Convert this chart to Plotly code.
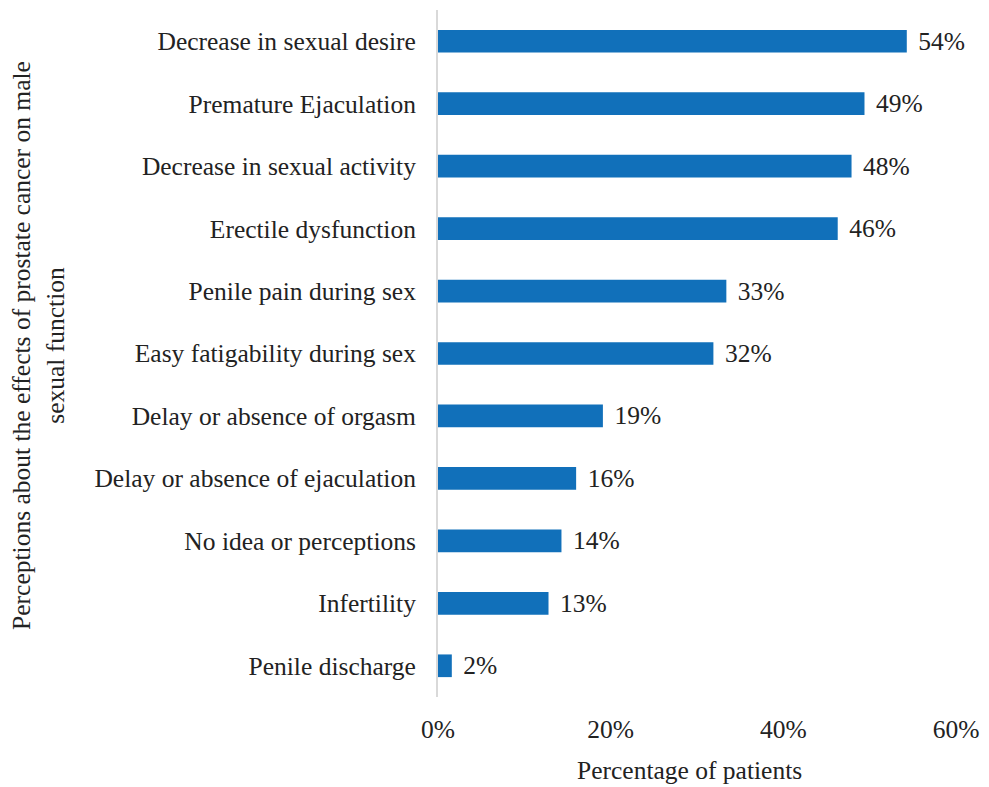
import plotly.graph_objects as go

categories = [
    "Decrease in sexual desire",
    "Premature Ejaculation",
    "Decrease in sexual activity",
    "Erectile dysfunction",
    "Penile pain during sex",
    "Easy fatigability during sex",
    "Delay or absence of orgasm",
    "Delay or absence of ejaculation",
    "No idea or perceptions",
    "Infertility",
    "Penile discharge",
]
# bar lengths (percent)
values = [54.3, 49.4, 47.9, 46.3, 33.4, 31.9, 19.1, 16.0, 14.3, 12.8, 1.6]
# printed data labels
value_labels = ["54%", "49%", "48%", "46%", "33%", "32%", "19%", "16%", "14%", "13%", "2%"]
tick_vals = [0, 20, 40, 60]
tick_text = ["0%", "20%", "40%", "60%"]

FONT = "Liberation Serif, Times New Roman, serif"
FS = 25.5

fig = go.Figure(
    go.Bar(
        y=categories,
        x=values,
        orientation="h",
        marker=dict(color="#1170BA", line=dict(width=0)),
        width=0.363,
        text=["\u2004" + t for t in value_labels],
        textposition="outside",
        constraintext="none",
        textfont=dict(family=FONT, size=FS, color="#222222"),
        cliponaxis=False,
    )
)

fig.update_layout(
    width=973,
    height=779,
    margin=dict(l=430, r=23, t=2, b=90),
    paper_bgcolor="white",
    plot_bgcolor="white",
    font=dict(family=FONT, size=FS, color="#222222"),
    showlegend=False,
    xaxis=dict(
        range=[0, 60],
        tickvals=tick_vals,
        ticktext=tick_text,
        showgrid=False,
        zeroline=False,
        showline=False,
        ticks="",
        ticklabelstandoff=14,
        ticklabeloverflow="allow",
    ),
    yaxis=dict(
        categoryorder="array",
        categoryarray=categories[::-1],
        autorange=False,
        range=[-0.5, 10.5],
        showgrid=False,
        zeroline=False,
        showline=True,
        linecolor="#D9D9D9",
        linewidth=2,
        ticks="",
        ticklabelstandoff=15,
    ),
    annotations=[
        dict(
            text="Percentage of patients",
            xref="paper", yref="paper",
            x=0.485, y=-0.1077,
            xanchor="center", yanchor="middle",
            showarrow=False,
            font=dict(family=FONT, size=FS, color="#222222"),
        ),
        dict(
            text="Perceptions about the effects of prostate cancer on male<br>sexual function",
            xref="paper", yref="paper",
            x=-0.771, y=0.512,
            xanchor="center", yanchor="middle",
            textangle=-90,
            showarrow=False,
            font=dict(family=FONT, size=FS, color="#222222"),
        ),
    ],
)

fig.write_html("out.html")
